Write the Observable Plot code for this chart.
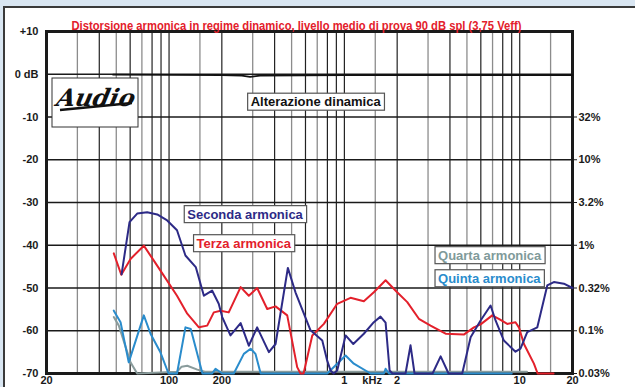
<!DOCTYPE html>
<html><head><meta charset="utf-8">
<script src="https://cdn.jsdelivr.net/npm/d3@7"></script>
<script src="https://cdn.jsdelivr.net/npm/@observablehq/plot@0.6"></script>
<style>
body{margin:0;background:#d9e6f2;}
#wrap{position:relative;width:635px;height:387px;overflow:hidden;}
#panel{position:absolute;left:3px;top:6px;width:660px;height:420px;background:#fff;border:2px solid #3a3a3a;}
#chart{position:absolute;left:0;top:0;}
</style></head><body>
<div id="wrap"><div id="panel"></div><div id="chart"></div></div>
<script>
const titleText = "Distorsione armonica in regime dinamico, livello medio di prova 90 dB spl (3,75 Veff)";

// x ticks (Hz) and their labels
const xTicks = [20, 30, 50, 100, 200, 500, 1000, 1440, 2000, 5000, 10000, 20000];
const xLabels = ["20", "Hz", "50", "100", "200", "500", "1", "kHz", "2", "5", "10", "20"];
// left dB axis
const leftTicks = [10, 0, -10, -20, -30, -40, -50, -60, -70];
const leftLabels = ["+10", "0 dB", "-10", "-20", "-30", "-40", "-50", "-60", "-70"];
// right % axis
const rightTicks = [-10, -20, -30, -40, -50, -60, -70];
const rightLabels = ["32%", "10%", "3.2%", "1%", "0.32%", "0.1%", "0.03%"];
// grid lines
const gridDark = [40, 60, 80, 90, 100, 200, 400, 600, 800, 900, 1000, 2000, 4000, 6000, 8000, 9000, 10000];
const gridGray = [30, 50, 70, 150, 300, 500, 700, 1500, 3000, 5000, 7000, 15000];

// series: [frequency Hz, dB]
const alterazione = [[48,-0.1],[200,-0.2],[260,-0.3],[290,-0.6],[330,-0.3],[1000,-0.2],[20000,-0.2]];
const seconda = [[53.6,-46.8],[59.5,-34.6],[65.8,-32.6],[75,-32.3],[85.6,-32.8],[97.6,-34.2],[111,-36.5],[124,-42.4],[142,-45.1],[158,-51.8],[176,-50.6],[192,-53.7],[201,-56.8],[224,-61.1],[256,-58.2],[285,-63.5],[318,-59.2],[371,-65.0],[405,-63.1],[476,-45.3],[526,-51.0],[641,-59.9],[748,-62.3],[798,-67.0],[834,-69.3],[868,-70],[910,-69.3],[1016,-61.1],[1124,-63.1],[1291,-60.7],[1472,-58.0],[1607,-56.7],[1718,-58.1],[1811,-69.3],[1880,-70],[2232,-70],[2384,-63.4],[2512,-70],[3184,-70],[3540,-66],[3928,-70],[4700,-70],[5248,-61.5],[5984,-57.6],[6820,-54.1],[7280,-57.6],[8120,-62.3],[9460,-64.9],[10100,-64.2],[11040,-60.3],[12600,-59.2],[14360,-49.4],[15660,-48.6],[17860,-49.0],[20000,-50.0]];
const terza = [[48.4,-41.9],[53.4,-46.9],[60.3,-43.2],[71.8,-40.1],[81.9,-43.6],[93.3,-47.1],[111,-51.8],[127,-56.0],[148,-59.2],[165,-58.8],[180,-55.7],[197,-55.3],[219,-55.7],[256,-49.8],[285,-51.8],[318,-50.0],[363,-54.9],[405,-54.3],[472,-56.4],[538,-68.5],[562,-70],[585,-70],[656,-61.1],[764,-58.4],[910,-53.7],[1084,-52.3],[1291,-53.1],[1472,-51.0],[1718,-48.2],[2000,-51.0],[2284,-53.3],[2660,-57.2],[3100,-58.8],[3776,-60.7],[4800,-60.9],[5480,-59.2],[5984,-58.5],[6970,-56.4],[7600,-57.2],[8490,-58.4],[9460,-58.0],[9890,-59.2],[10570,-63.1],[12050,-67.7],[12650,-70],[15600,-70]];
const quarta = [[48.4,-56.8],[51.7,-58.8],[60.3,-67.4],[65.8,-70],[111,-69.6],[118,-68.4],[127,-68.2],[145,-69.1],[160,-69.6],[11000,-69.6]];
const quinta = [[48.4,-55.3],[52.9,-58.0],[58.9,-67.4],[71.8,-56.4],[78.4,-60.7],[89.4,-65.1],[99.3,-70],[111,-70],[124,-59.2],[133,-59.6],[155,-70],[176,-70],[184,-68.9],[201,-70],[234,-70],[267,-65.4],[292,-64.2],[311,-65.4],[333,-70],[798,-70],[910,-67.7],[1016,-65.8],[1132,-67.7],[1410,-70],[1680,-70],[1718,-68.9],[1794,-70],[9000,-70]];

// in-chart labels
const labelNames = ["Alterazione dinamica", "Seconda armonica", "Terza armonica", "Quarta armonica", "Quinta armonica"];
const labelFreq = [292, 127, 143.5, 3420, 3420];
const labelDb = [-6.5, -32.8, -39.6, -42.4, -47.8];
const labelColors = ["#111111", "#2d2a86", "#e3202b", "#809a9a", "#2a8ccc"];

const colNavy = "#2d2a86", colRed = "#e3202b", colGray = "#8a9c9c", colBlue = "#2a8ccc";

const chart = Plot.plot({
  width: 635, height: 387,
  marginLeft: 46, marginRight: 63, marginTop: 31, marginBottom: 14,
  style: {background: "transparent", fontFamily: "'Liberation Sans', Arial, sans-serif", fontSize: "11px", fontWeight: "bold", color: "#1a1a1a"},
  x: {type: "log", domain: [20, 20000]},
  y: {domain: [-70, 10]},
  marks: [
    Plot.ruleX(gridGray, {stroke: "#8c8c8c", strokeWidth: 1.3}),
    Plot.ruleX(gridDark, {stroke: "#222", strokeWidth: 1.2}),
    Plot.ruleY(leftTicks, {stroke: "#1a1a1a", strokeWidth: 1.4}),
    Plot.frame({stroke: "#1a1a1a", strokeWidth: 3}),
    Plot.axisY(leftTicks, {anchor: "left", tickSize: 0, tickPadding: 8, tickFormat: d => leftLabels[leftTicks.indexOf(d)], fontSize: 11, fontWeight: "bold"}),
    Plot.axisY(rightTicks, {anchor: "right", tickSize: 4, tickPadding: 2, tickFormat: d => rightLabels[rightTicks.indexOf(d)], fontSize: 11, fontWeight: "bold"}),
    Plot.axisX(xTicks, {anchor: "bottom", tickSize: 0, tickPadding: 3, tickFormat: d => xLabels[xTicks.indexOf(d)], fontSize: 11, fontWeight: "bold"}),
    Plot.line(alterazione, {x: d => d[0], y: d => d[1], stroke: "#111", strokeWidth: 1.8}),
    Plot.line(quarta, {x: d => d[0], y: d => d[1], stroke: colGray, strokeWidth: 2, strokeLinejoin: "round"}),
    Plot.line(quinta, {x: d => d[0], y: d => d[1], stroke: colBlue, strokeWidth: 2, strokeLinejoin: "round"}),
    Plot.line(terza, {x: d => d[0], y: d => d[1], stroke: colRed, strokeWidth: 2, strokeLinejoin: "round"}),
    Plot.line(seconda, {x: d => d[0], y: d => d[1], stroke: colNavy, strokeWidth: 2, strokeLinejoin: "round"}),
    Plot.text(labelNames, {x: (d, i) => labelFreq[i], y: (d, i) => labelDb[i], text: d => d, fill: (d, i) => labelColors[i], textAnchor: "start", fontSize: 13, fontWeight: "bold"}),
    Plot.text([titleText], {frameAnchor: "top", dx: -13, dy: -11, fill: "#e3202b", fontSize: 13.5, fontWeight: "bold", fontFamily: "'Liberation Sans Narrow', 'Arial Narrow', sans-serif"})
  ]
});
document.getElementById("chart").appendChild(chart);

const svg = d3.select(chart);
svg.selectAll("text").each(function() {
  const t = this.textContent;
  if (labelNames.includes(t)) {
    // white framed box behind each in-chart label
    const b = this.getBBox();
    d3.select(this.parentNode).insert("rect", () => this)
      .attr("transform", this.getAttribute("transform"))
      .attr("x", b.x - 3).attr("y", b.y - 1).attr("width", b.width + 6).attr("height", b.height + 2)
      .attr("fill", "#fff").attr("stroke", "#555").attr("stroke-width", 1.2);
  } else if (t === titleText) {
    this.setAttribute("textLength", 450);
    this.setAttribute("lengthAdjust", "spacingAndGlyphs");
  }
});
// logo box
const logo = svg.append("g");
logo.append("rect").attr("x", 52).attr("y", 78).attr("width", 86).attr("height", 49)
  .attr("fill", "#fff").attr("stroke", "#333").attr("stroke-width", 1);
logo.append("text").attr("x", 95).attr("y", 106).attr("text-anchor", "middle")
  .attr("font-family", "'DejaVu Serif', serif").attr("font-style", "italic").attr("font-weight", "bold")
  .attr("font-size", 24).attr("fill", "#111").attr("transform", "skewX(-12) translate(22,0)")
  .text("Audio");
logo.append("path").attr("d", "M60,110 L132,103").attr("stroke", "#111").attr("stroke-width", 2.5).attr("fill", "none");
</script>
</body></html>
